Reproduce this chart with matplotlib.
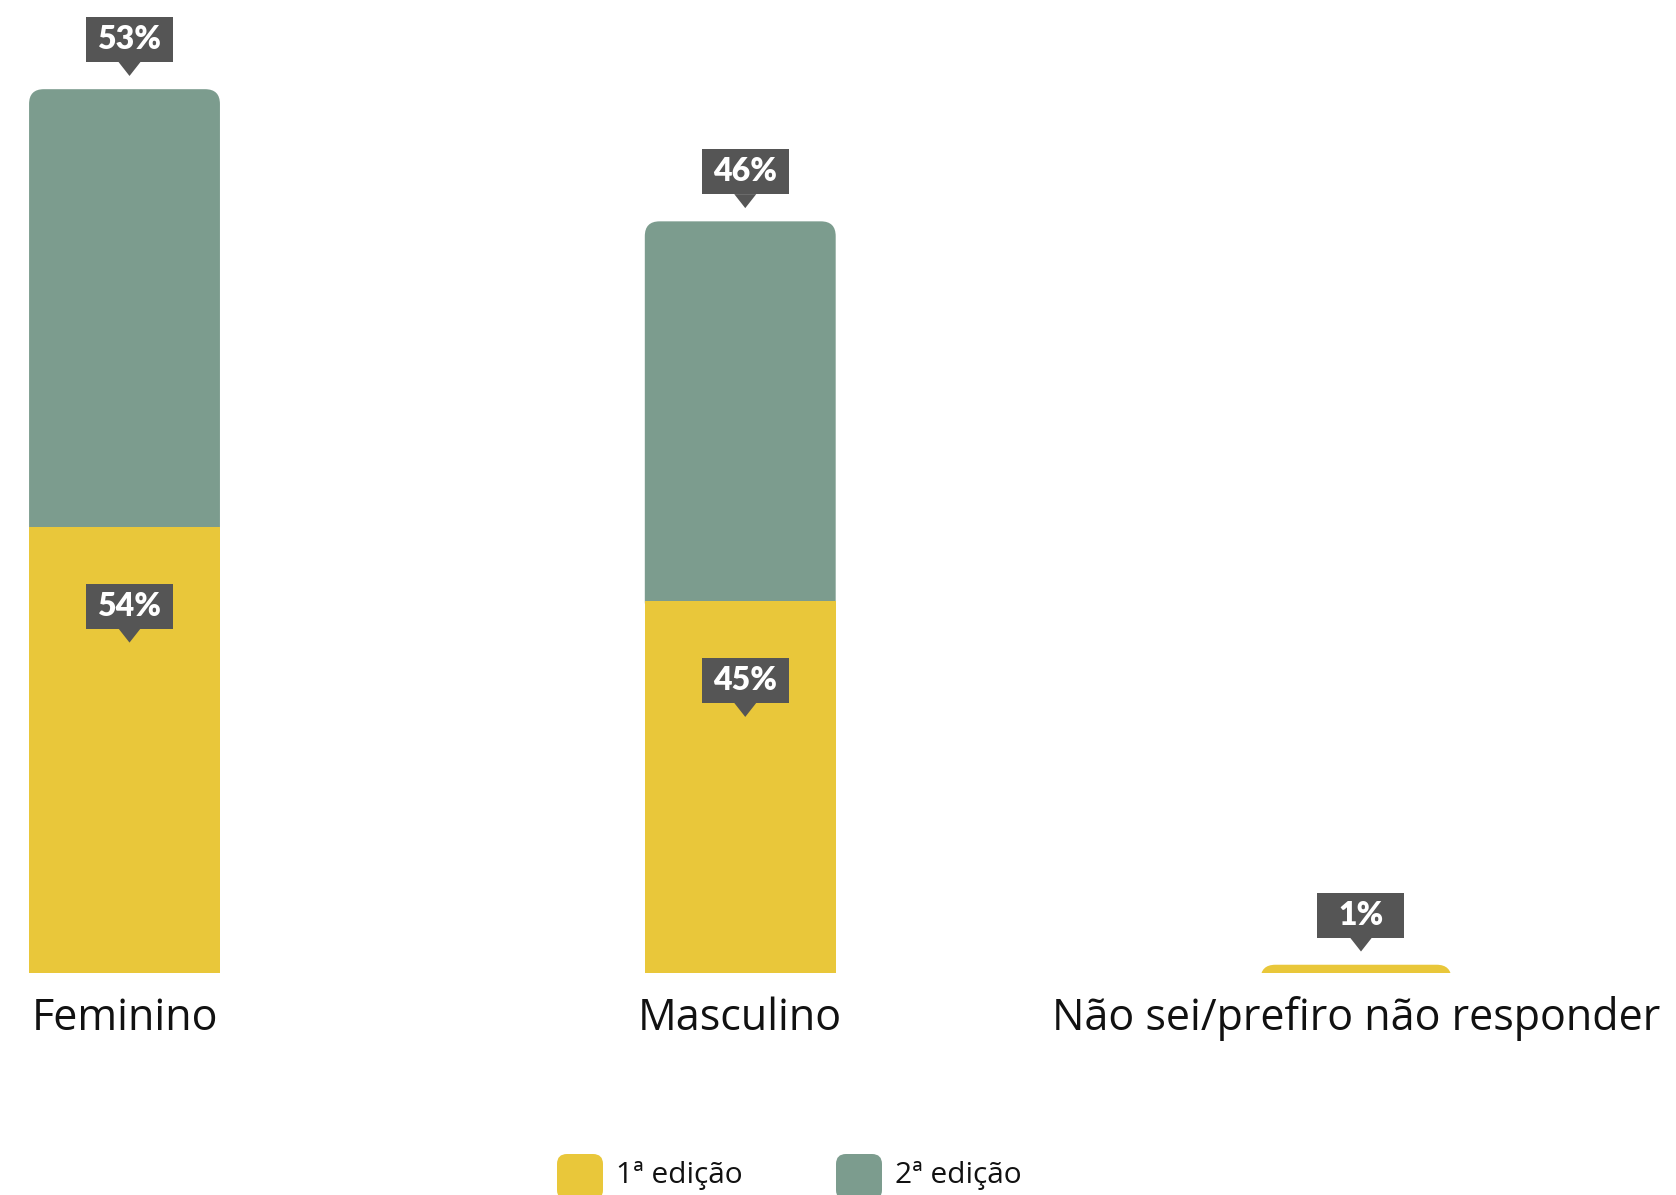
import matplotlib.pyplot as plt
import matplotlib.transforms as mtransforms
from matplotlib.patches import FancyBboxPatch, Polygon, Rectangle

categories = ['Feminino', 'Masculino', 'Não sei/prefiro não responder']
ed1 = [54, 45, 1]
ed2 = [53, 46, 0]
series_names = ['1ª edição', '2ª edição']

YELLOW = '#E9C73A'
GREEN = '#7C9C8E'
TAG = '#555555'

W, H = 1676, 1195
fig = plt.figure(figsize=(W / 100, H / 100), dpi=100)
ax = fig.add_axes([0, 1 - 973 / H, 1, 908.6 / H])
ax.set_xlim(-0.2022, 2.5197)
ax.set_ylim(0, 110)
ax.axis('off')

bw = 0.31
x = list(range(len(categories)))
R = 0.024        # corner radius, x data units
ASPECT = 74.6    # y units per x unit on screen


def rounded_top(ax, xc, y0, h, color, z):
    # rounded box pushed below y0 so only its top corners show
    ext = R * ASPECT
    p = FancyBboxPatch((xc - bw / 2, y0 - ext), bw, h + ext,
                       boxstyle=f'round,pad=0,rounding_size={R}',
                       mutation_aspect=ASPECT, fc=color, ec='none', lw=0,
                       zorder=z)
    ax.add_patch(p)


def tag(ax, xc, y, text):
    # dark callout box with a pointer, tip at (xc, y), sized in pixels
    tr = mtransforms.Affine2D() + mtransforms.ScaledTranslation(xc, y, ax.transData)
    dx = 5
    ax.add_patch(Polygon([(dx - 11, 14), (dx + 11, 14), (dx, 0)], closed=True,
                         fc=TAG, ec='none', transform=tr, clip_on=False, zorder=5))
    ax.add_patch(Rectangle((dx - 43.5, 14), 87, 45, fc=TAG, ec='none',
                           transform=tr, clip_on=False, zorder=5))
    ax.text(dx, 14 + 22.5, text, transform=tr, ha='center', va='center',
            color='white', fontsize=23, fontweight='heavy', family='Lato',
            clip_on=False, zorder=6)


for i in x:
    a, b = ed1[i], ed2[i]
    if b > 0:
        rounded_top(ax, i, a, b, GREEN, 1)
        ax.bar(i, a, bw, color=YELLOW, linewidth=0, zorder=2)
        tag(ax, i, a - 14, f'{a}%')
        tag(ax, i, a + b + 1.6, f'{b}%')
    else:
        rounded_top(ax, i, 0, a, YELLOW, 2)
        tag(ax, i, a + 1.6, f'{a}%')
    ax.text(i, -5.5, categories[i], ha='center', va='center',
            fontsize=31, family='Open Sans', color='#111111', clip_on=False)

# legend along the bottom edge
for px, name, color in [(557, series_names[0], YELLOW), (836, series_names[1], GREEN)]:
    sq = FancyBboxPatch((px / W, 1 - 1200 / H), 46 / W, 46 / H,
                        boxstyle=f'round,pad=0,rounding_size={10 / W}',
                        mutation_aspect=W / H, fc=color, ec='none',
                        transform=fig.transFigure)
    fig.add_artist(sq)
    fig.text((px + 59) / W, 1 - 1176 / H, name, ha='left', va='center',
             fontsize=21.5, family='Open Sans', color='#111111')

fig.savefig('out.png', dpi=100)
